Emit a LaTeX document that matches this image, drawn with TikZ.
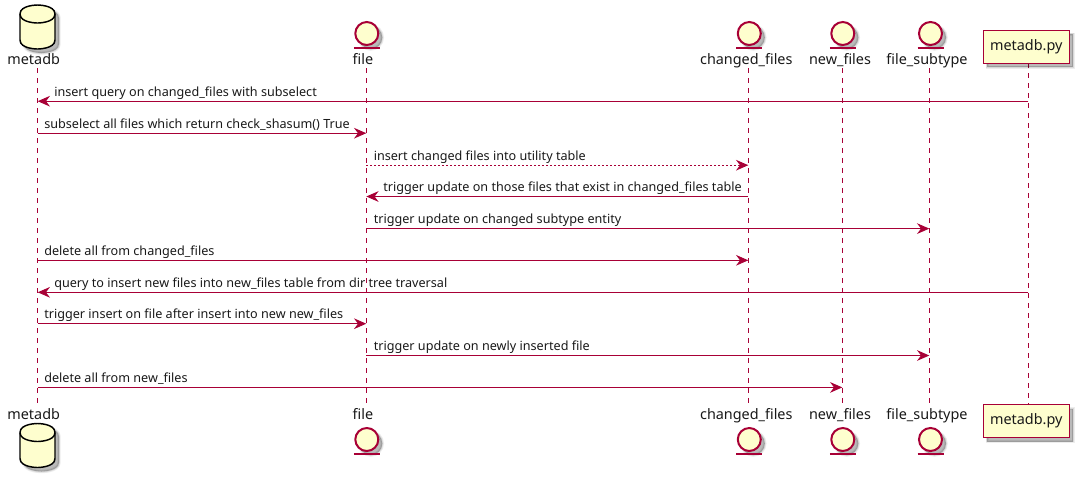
\documentclass[tikz,border=0pt]{standalone}
\usepackage{fontspec}
\setmainfont{Noto Sans}
\usetikzlibrary{shapes.geometric, arrows.meta, positioning, calc, shadows}
\definecolor{umlline}{HTML}{A80036}
\definecolor{umlfill}{HTML}{FEFECE}
\tikzset{
  softshadow/.style={
    general shadow={fill=black, draw=black, line width=2.6pt, opacity=0.07, shadow xshift=3pt, shadow yshift=-3pt},
    general shadow={fill=black, draw=black, line width=1.3pt, opacity=0.09, shadow xshift=3pt, shadow yshift=-3pt},
    general shadow={fill=black, draw=none, opacity=0.14, shadow xshift=3pt, shadow yshift=-3pt}},
  lifeline/.style={umlline, line width=0.75pt, dash pattern=on 3.75pt off 3.75pt},
  msg/.style={umlline, line width=0.75pt, -{Stealth[length=9.2pt, width=8pt, inset=3pt]}},
  msgdash/.style={msg, dash pattern=on 1.5pt off 1.5pt},
  msgtext/.style={anchor=base west, inner sep=0pt, font=\fontsize{9.47}{12}\selectfont, text=black!90},
  actorname/.style={anchor=base, inner sep=0pt, font=\fontsize{10.8}{12}\selectfont, text=black!90},
  entity/.style={circle, draw=umlline, fill=umlfill, line width=1.5pt, minimum size=17.25pt, inner sep=0pt, softshadow},
  entitybar/.style={umlline, line width=1.5pt},
  database/.style={draw=black, fill=umlfill, line width=1.1pt, softshadow},
  databasearc/.style={draw=black, line width=1.1pt},
  pybox/.style={rectangle, draw=umlline, fill=umlfill, line width=1.1pt, minimum width=64.5pt, minimum height=24.75pt, inner sep=0pt, softshadow, font=\fontsize{10.8}{12}\selectfont, text=black!90},
}
\newcommand{\dbshape}[1]{%
  \begin{scope}[shift={(0,#1)}]
    \draw[database] (20,9) .. controls (20,0) and (37.5,0) .. (37.5,0)
      .. controls (37.5,0) and (55,0) .. (55,9) -- (55,35)
      .. controls (55,44) and (37.5,44) .. (37.5,44)
      .. controls (37.5,44) and (20,44) .. (20,35) -- cycle;
    \draw[databasearc] (20,9) .. controls (20,18) and (37.5,18) .. (37.5,18)
      .. controls (37.5,18) and (55,18) .. (55,9);
  \end{scope}}
\begin{document}
\begin{tikzpicture}[x=0.75pt, y=-0.75pt]
  \useasboundingbox (0,0) rectangle (1079,480);

  % Lifelines
  \foreach \name/\x/\ytop/\ybot in {
    metadb/37.7/68/403,
    file/366.3/68/403,
    changed/748.3/68/403,
    new/842.3/68/403,
    subtype/929.3/68/403,
    py/1028.3/63/404
  }{
    \coordinate (\name-top) at (\x,\ytop);
    \coordinate (\name-bot) at (\x,\ybot);
    \draw[lifeline] (\name-top) -- (\name-bot);
  }

  % Actor names
  \foreach \name/\x/\label in {
    metadb/33.7/metadb,
    file/363/file,
    changed/746.3/changed\_files,
    new/840/new\_files,
    subtype/927/file\_subtype
  }{
    \node[actorname] (\name-head) at (\x,64) {\label};
    \node[actorname] (\name-foot) at (\x,419) {\label};
  }

  % Databases
  \dbshape{5}
  \dbshape{423.5}

  % Entities
  \foreach \name/\x in {file/366.8, changed/749.3, new/842.8, subtype/930.5}{
    \node[entity] (\name-ehead) at (\x,33.5) {};
    \node[entity] (\name-efoot) at (\x,439.5) {};
    \draw[entitybar] ($(\name-ehead)+(-13,14)$) -- ($(\name-ehead)+(13,14)$);
    \draw[entitybar] ($(\name-efoot)+(-13,14)$) -- ($(\name-efoot)+(13,14)$);
  }

  % Boxes
  \node[pybox] (py-head) at (1026.3,46.8) {metadb.py};
  \node[pybox] (py-foot) at (1026.3,421) {metadb.py};

  % Messages
  \foreach \y/\from/\to/\sty/\tx/\task in {
    101.2/py/metadb/msg/54/insert query on changed\_files with subselect,
    133.2/metadb/file/msg/44/subselect all files which return check\_shasum() True,
    165.2/file/changed/msgdash/373.5/insert changed files into utility table,
    196.5/changed/file/msg/383/trigger update on those files that exist in changed\_files table,
    228.6/file/subtype/msg/373.5/trigger update on changed subtype entity,
    260.3/metadb/changed/msg/44/delete all from changed\_files,
    292.3/py/metadb/msg/54/query to insert new files into new\_files table from dir tree traversal,
    323.7/metadb/file/msg/44/trigger insert on file after insert into new new\_files,
    355.5/file/subtype/msg/373.5/trigger update on newly inserted file,
    387.4/metadb/new/msg/44/delete all from new\_files
  }{
    \draw[\sty] (\from-top |- 0,\y) -- (\to-top |- 0,\y);
    \node[msgtext] at (\tx,\y-5.2) {\task};
  }
\end{tikzpicture}
\end{document}
